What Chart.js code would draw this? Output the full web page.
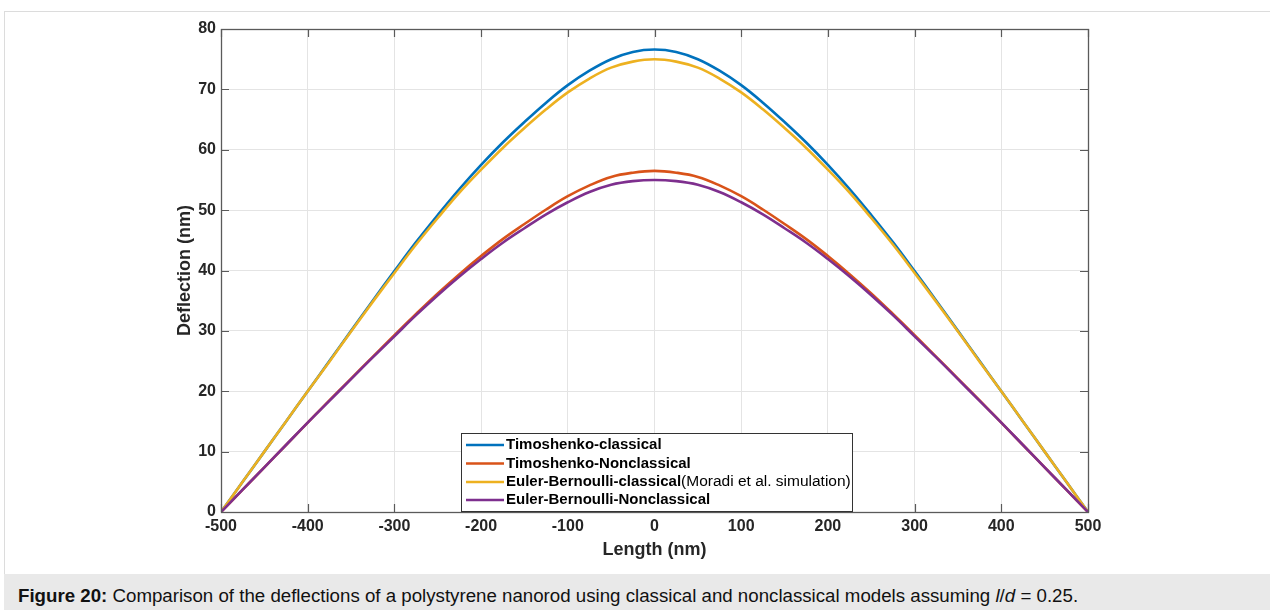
<!DOCTYPE html>
<html>
<head>
<meta charset="utf-8">
<script src="https://cdn.jsdelivr.net/npm/chart.js@4.4.1/dist/chart.umd.min.js"></script>
<style>
  html, body { margin: 0; padding: 0; background: #ffffff; }
  body { width: 1270px; height: 610px; position: relative; overflow: hidden; font-family: "Liberation Sans", Arial, sans-serif; }
  #frame { position: absolute; left: 4px; top: 11px; width: 1266px; height: 563px; border-left: 1.5px solid #dcdcdc; border-top: 1.5px solid #dcdcdc; box-sizing: border-box; }
  #chartWrap { position: absolute; left: 0; top: 0; width: 1270px; height: 574px; }
  #caption { position: absolute; left: 4px; top: 574px; width: 1266px; height: 36px; background: #e9e9e9; box-sizing: border-box; padding-left: 14px; padding-top: 4px; font-size: 18.7px; line-height: 36px; color: #111; white-space: nowrap; }
</style>
</head>
<body>
<div id="frame"></div>
<div id="chartWrap"><canvas id="c" width="1270" height="574"></canvas></div>
<div id="caption"><b>Figure 20:</b> Comparison of the deflections of a polystyrene nanorod using classical and nonclassical models assuming <i>l</i>/<i>d</i> = 0.25.</div>
<script>
// ---- data ----
const lengthNm = [-500,-475,-450,-425,-400,-375,-350,-325,-300,-275,-250,-225,-200,-175,-150,-125,-100,-75,-50,-25,0,
                  25,50,75,100,125,150,175,200,225,250,275,300,325,350,375,400,425,450,475,500];
const timoshenkoClassical = [0,5.0,10.0,15.0,20.0,25.0,30.0,35.0,39.9,44.7,49.2,53.5,57.5,61.2,64.6,67.8,70.7,73.1,75.0,76.2,76.6,
                             76.2,75.0,73.1,70.7,67.8,64.6,61.2,57.5,53.5,49.2,44.7,39.9,35.0,30.0,25.0,20.0,15.0,10.0,5.0,0];
const timoshenkoNonclassical = [0,3.7,7.4,11.1,14.8,18.5,22.1,25.7,29.3,32.8,36.2,39.4,42.4,45.2,47.7,50.1,52.3,54.1,55.5,56.2,56.5,
                                56.2,55.5,54.1,52.3,50.1,47.7,45.2,42.4,39.4,36.2,32.8,29.3,25.7,22.1,18.5,14.8,11.1,7.4,3.7,0];
const eulerClassical = [0,5.0,10.0,15.0,20.0,24.9,29.9,34.8,39.6,44.3,48.7,52.9,56.7,60.3,63.6,66.7,69.5,71.8,73.6,74.6,75.0,
                        74.6,73.6,71.8,69.5,66.7,63.6,60.3,56.7,52.9,48.7,44.3,39.6,34.8,29.9,24.9,20.0,15.0,10.0,5.0,0];
const eulerNonclassical = [0,3.7,7.4,11.1,14.8,18.4,22.0,25.6,29.1,32.6,35.9,39.0,41.9,44.6,47.0,49.3,51.3,53.0,54.2,54.8,55.0,
                           54.8,54.2,53.0,51.3,49.3,47.0,44.6,41.9,39.0,35.9,32.6,29.1,25.6,22.0,18.4,14.8,11.1,7.4,3.7,0];
const seriesLabels = ["Timoshenko-classical","Timoshenko-Nonclassical","Euler-Bernoulli-classical(Moradi et al. simulation)","Euler-Bernoulli-Nonclassical"];
const xTicks = [-500,-400,-300,-200,-100,0,100,200,300,400,500];
const yTicks = [0,10,20,30,40,50,60,70,80];
const xTitle = "Length (nm)";
const yTitle = "Deflection (nm)";

const colors = ["#0072BD","#D95319","#EDB120","#7E2F8E"];
const seriesValues = [timoshenkoClassical, timoshenkoNonclassical, eulerClassical, eulerNonclassical];
const FONT = '"Liberation Sans", Arial, Helvetica, sans-serif';
const AXIS_COLOR = '#5a5a5a';
const TEXT_COLOR = '#262626';

const datasets = seriesValues.map((vals, i) => ({
  label: seriesLabels[i],
  data: lengthNm.map((x, j) => ({x: x, y: vals[j]})),
  borderColor: colors[i],
  backgroundColor: colors[i],
  borderWidth: 2.6,
  pointRadius: 0,
  tension: 0.4,
  fill: false,
  order: 4 - i
}));

const boxPlugin = {
  id: 'matlabBox',
  afterDatasetsDraw(chart) {
    const {ctx, chartArea: a, scales} = chart;
    ctx.save();
    ctx.strokeStyle = AXIS_COLOR;
    ctx.lineWidth = 1.2;
    const tl = 8;
    ctx.beginPath();
    xTicks.forEach(v => {
      const px = Math.round(scales.x.getPixelForValue(v)) + 0.5;
      ctx.moveTo(px, a.bottom); ctx.lineTo(px, a.bottom - tl);
      ctx.moveTo(px, a.top); ctx.lineTo(px, a.top + tl);
    });
    yTicks.forEach(v => {
      const py = Math.round(scales.y.getPixelForValue(v)) + 0.5;
      ctx.moveTo(a.left, py); ctx.lineTo(a.left + tl, py);
      ctx.moveTo(a.right, py); ctx.lineTo(a.right - tl, py);
    });
    ctx.stroke();
    ctx.lineWidth = 1.3;
    ctx.strokeRect(a.left + 0.5, a.top + 0.5, a.right - a.left, a.bottom - a.top);

    // legend
    const lx = 461, ly = 433, lw = 391, lh = 78;
    ctx.fillStyle = '#ffffff';
    ctx.fillRect(lx, ly, lw, lh);
    ctx.strokeStyle = '#333333';
    ctx.lineWidth = 1;
    ctx.strokeRect(lx + 0.5, ly + 0.5, lw, lh);
    const rows = [445, 463.5, 482, 500];
    chart.data.datasets.forEach((ds, i) => {
      const y = rows[i];
      ctx.strokeStyle = ds.borderColor;
      ctx.lineWidth = 2.6;
      ctx.beginPath();
      ctx.moveTo(466, y); ctx.lineTo(504, y);
      ctx.stroke();
      ctx.fillStyle = '#000000';
      ctx.textBaseline = 'middle';
      ctx.textAlign = 'left';
      const label = ds.label;
      const k = label.indexOf('(');
      if (k > 0) {
        const main = label.slice(0, k), rest = label.slice(k);
        ctx.font = 'bold 15px ' + FONT;
        ctx.fillText(main, 506, y);
        const w = ctx.measureText(main).width;
        ctx.font = '15.5px ' + FONT;
        ctx.fillText(rest, 506 + w, y);
      } else {
        ctx.font = 'bold 15px ' + FONT;
        ctx.fillText(label, 506, y);
      }
    });
    ctx.restore();
  }
};

new Chart(document.getElementById('c'), {
  type: 'line',
  data: { datasets: datasets },
  plugins: [boxPlugin],
  options: {
    responsive: false,
    devicePixelRatio: 1,
    animation: false,
    layout: { padding: { top: 29, right: 182, bottom: 0, left: 0 } },
    plugins: { legend: { display: false }, tooltip: { enabled: false } },
    scales: {
      x: {
        type: 'linear',
        min: -500, max: 500,
        afterBuildTicks: s => { s.ticks = xTicks.map(v => ({value: v})); },
        afterFit: s => { s.height = 62; },
        ticks: { font: { family: FONT, size: 16, weight: 'bold' }, color: TEXT_COLOR, padding: 5, maxRotation: 0, autoSkip: false },
        grid: { color: '#e4e4e4', lineWidth: 1, drawTicks: false },
        border: { display: false },
        title: { display: true, text: xTitle, font: { family: FONT, size: 18, weight: 'bold' }, color: TEXT_COLOR, padding: { top: 0, bottom: 13 } }
      },
      y: {
        type: 'linear',
        min: 0, max: 80,
        afterBuildTicks: s => { s.ticks = yTicks.map(v => ({value: v})); },
        afterFit: s => { s.width = 221; },
        ticks: { font: { family: FONT, size: 16, weight: 'bold' }, color: TEXT_COLOR, padding: 5, autoSkip: false },
        grid: { color: '#e4e4e4', lineWidth: 1, drawTicks: false },
        border: { display: false },
        title: { display: true, text: yTitle, font: { family: FONT, size: 18, weight: 'bold' }, color: TEXT_COLOR, padding: { top: 174, bottom: 0 } }
      }
    }
  }
});
</script>
</body>
</html>
